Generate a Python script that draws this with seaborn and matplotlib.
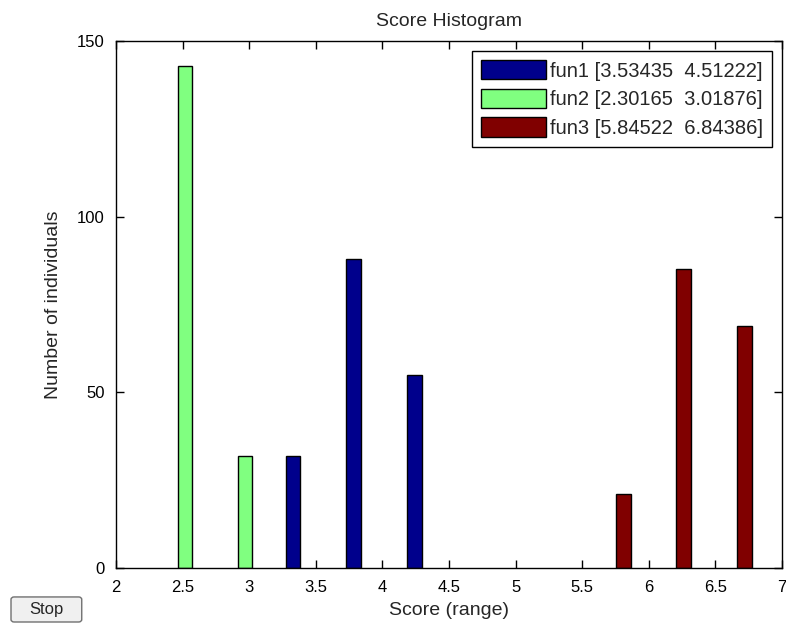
import numpy as np
import pandas as pd
import matplotlib
matplotlib.use("Agg")
import matplotlib.pyplot as plt
from matplotlib.patches import FancyBboxPatch
import seaborn as sns

# bin centres and counts
fun1_centers = [3.327, 3.784, 4.241]
fun1_counts = [32, 88, 55]
fun2_centers = [2.518, 2.968]
fun2_counts = [143, 32]
fun3_centers = [5.811, 6.262, 6.718]
fun3_counts = [21, 85, 69]

labels = ["fun1 [3.53435  4.51222]",
          "fun2 [2.30165  3.01876]",
          "fun3 [5.84522  6.84386]"]
colors = ["#00008c", "#80ff80", "#800000"]

x_ticks = [2, 2.5, 3, 3.5, 4, 4.5, 5, 5.5, 6, 6.5, 7]
x_tick_labels = ["2", "2.5", "3", "3.5", "4", "4.5", "5", "5.5", "6", "6.5", "7"]
y_ticks = [0, 50, 100, 150]

df = pd.concat([
    pd.DataFrame({"score": fun1_centers, "count": fun1_counts, "fun": labels[0]}),
    pd.DataFrame({"score": fun2_centers, "count": fun2_counts, "fun": labels[1]}),
    pd.DataFrame({"score": fun3_centers, "count": fun3_counts, "fun": labels[2]}),
], ignore_index=True)

sns.set_style("white")
plt.rcParams["font.family"] = ["Liberation Sans", "DejaVu Sans"]
tick_fs = 12
label_fs = 14

fig = plt.figure(figsize=(7.86, 6.26), dpi=100)
ax = fig.add_axes([0.1476, 0.0927, 0.8473, 0.8418])

# bar width in data units, converted to seaborn's native-scale width
bar_w = 0.109
min_gap = np.diff(np.unique(df["score"])).min()

sns.barplot(data=df, x="score", y="count", hue="fun", hue_order=labels,
            palette=colors, saturation=1, native_scale=True, dodge=False,
            width=bar_w / min_gap, edgecolor="black", linewidth=1.0,
            errorbar=None, ax=ax)

ax.set_xlim(2, 7)
ax.set_ylim(0, 150)
ax.set_xticks(x_ticks)
ax.set_xticklabels(x_tick_labels, fontsize=tick_fs)
ax.set_yticks(y_ticks)
ax.set_yticklabels([str(v) for v in y_ticks], fontsize=tick_fs)
ax.tick_params(direction="in", length=6, width=1, top=True, right=True,
               bottom=True, left=True, colors="black")
ax.tick_params(axis="x", pad=9)
ax.tick_params(axis="y", pad=8)
for s in ax.spines.values():
    s.set_visible(True)
    s.set_color("black")
    s.set_linewidth(1.0)

ax.set_title("Score Histogram", fontsize=label_fs, pad=11)
ax.set_xlabel("Score (range)", fontsize=label_fs, labelpad=5)
ax.set_ylabel("Number of individuals", fontsize=label_fs, labelpad=11)

leg = ax.legend(loc="upper right", fontsize=14.5, frameon=True, fancybox=False,
                framealpha=1, edgecolor="black", handlelength=3.2,
                handleheight=1.1, handletextpad=0.2, labelspacing=0.4,
                borderpad=0.45, borderaxespad=0.5)
leg.get_frame().set_linewidth(1.0)
for h in leg.legend_handles:
    h.set_edgecolor("black")

# the "Stop" button in the lower left corner
btn = FancyBboxPatch((0.014, 0.0064), 0.09, 0.04, transform=fig.transFigure,
                     boxstyle="round,pad=0,rounding_size=0.004",
                     facecolor="#f0f0f0", edgecolor="#707070", linewidth=1.0)
fig.patches.append(btn)
fig.text(0.059, 0.0264, "Stop", ha="center", va="center", fontsize=12)

fig.savefig("out.png", dpi=100, facecolor="white")
